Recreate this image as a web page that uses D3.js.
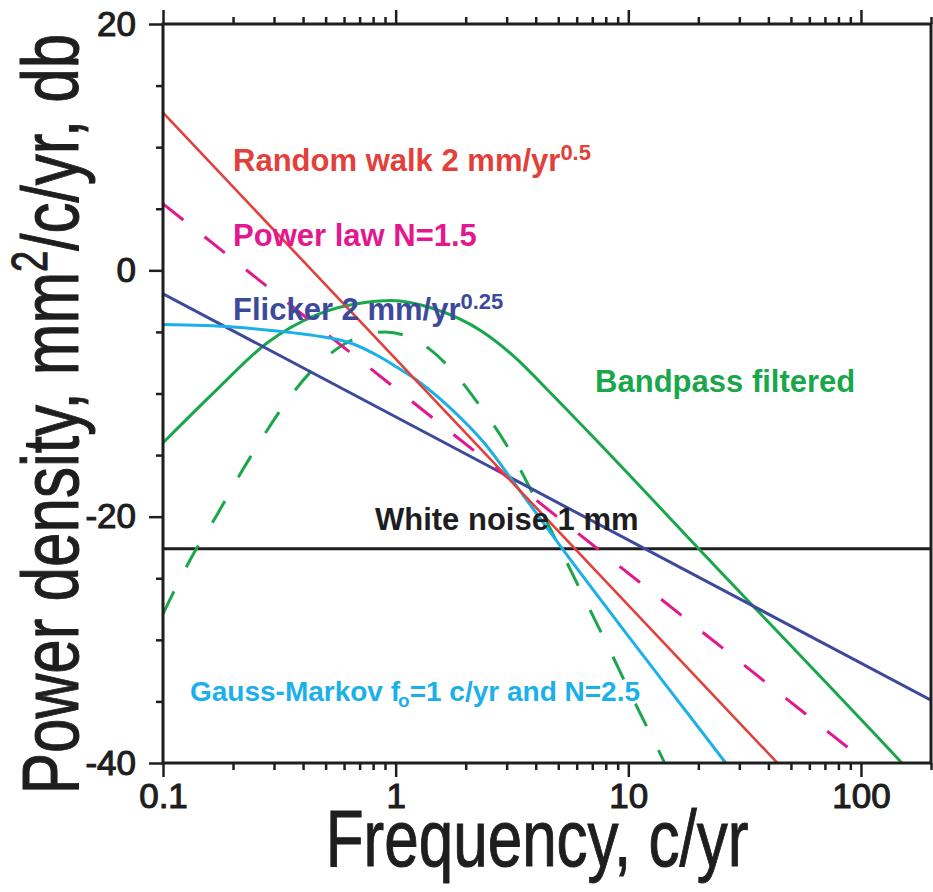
<!DOCTYPE html>
<html>
<head>
<meta charset="utf-8">
<script src="https://cdn.jsdelivr.net/npm/d3@7"></script>
<style>
  body { margin: 0; background: #fff; }
  text { font-family: "Liberation Sans", Arial, Helvetica, sans-serif; }
</style>
</head>
<body>
<svg id="chart" width="933" height="892"></svg>
<script>
// Axis ticks
var freqMajor = [0.1, 1, 10, 100];
var freqMinor = [0.2, 0.3, 0.4, 0.5, 0.6, 0.7, 0.8, 0.9,
                 2, 3, 4, 5, 6, 7, 8, 9,
                 20, 30, 40, 50, 60, 70, 80, 90, 200];
var dbMajor = [-40, -20, 0, 20];
var dbMinor = [-35, -30, -25, -15, -10, -5, 5, 10, 15];

// Spectra: [frequency c/yr, power dB]
var randomWalk = [[0.1, 12.8], [200, -53.2]];
var powerLaw = [[0.1, 5.4], [200, -44.1]];
var flicker = [[0.1, -1.9], [200, -34.9]];
var whiteNoise = [[0.1, -22.6], [200, -22.6]];
var gaussMarkov = [[0.1, -4.4], [0.2, -4.6], [0.3, -4.9], [0.45, -5.3], [0.64, -5.9],
                   [0.85, -7.0], [1.0, -7.8], [1.25, -9.0], [1.7, -11.1], [2.4, -14.0],
                   [3.3, -17.5], [5.2, -22.6], [10, -29.7], [20, -37.1], [28, -40.7]];
var bandpass = [[0.1, -14.0], [0.17, -9.7], [0.28, -5.9], [0.46, -3.6], [0.75, -2.6],
                [0.95, -2.45], [1.45, -3.1], [2.37, -5.0], [3.32, -7.2], [4.6, -9.9],
                [7.55, -14.1], [20.3, -22.7], [150, -40.0], [170, -41.1]];
var bandpassDashed = [[0.1, -27.9], [0.13, -23.6], [0.17, -19.9], [0.22, -16.2], [0.28, -13.0],
                      [0.36, -10.0], [0.46, -7.7], [0.6, -6.0], [0.75, -5.2], [0.9, -5.0],
                      [1.1, -5.3], [1.4, -6.4], [1.8, -8.4], [2.3, -11.0], [3.0, -14.2],
                      [4.0, -18.6], [5.0, -22.3], [6.5, -26.7], [8.5, -31.2], [11, -35.6],
                      [14, -39.6], [15, -40.8]];

var red = "#e2403a", magenta = "#e3188f", blue = "#3d4a9c",
    cyan = "#1cb0ea", green = "#1aa64b", black = "#1e1e1e";

var svg = d3.select("#chart");
var plotLeft = 163, plotRight = 931, plotTop = 24, plotBottom = 763;

var x = d3.scaleLog().domain([0.1, 200]).range([plotLeft, plotRight]);
var y = d3.scaleLinear().domain([-40, 20]).range([plotBottom, plotTop]);

svg.append("clipPath").attr("id", "plot")
    .append("rect").attr("x", plotLeft).attr("y", plotTop)
    .attr("width", plotRight - plotLeft).attr("height", plotBottom - plotTop);

var line = d3.line()
    .x(function (d) { return x(d[0]); })
    .y(function (d) { return y(d[1]); })
    .curve(d3.curveMonotoneX);

var g = svg.append("g").attr("clip-path", "url(#plot)");

function drawLine(data, color, dash, width) {
    g.append("path").datum(data)
        .attr("d", line)
        .attr("fill", "none")
        .attr("stroke", color)
        .attr("stroke-width", width || 3)
        .attr("stroke-dasharray", dash || null);
}

drawLine(whiteNoise, black, null, 3);
drawLine(bandpassDashed, green, "25,27");
drawLine(bandpass, green);
drawLine(flicker, blue);
drawLine(powerLaw, magenta, "26,27");
drawLine(gaussMarkov, cyan);
drawLine(randomWalk, red, null, 2.6);

// Axes: ticks only, frame drawn separately
function styleAxis(sel) {
    sel.select(".domain").remove();
    sel.selectAll(".tick line").attr("stroke", black).attr("stroke-width", 2.5);
    sel.selectAll(".tick text").attr("fill", black)
        .attr("stroke", black).attr("stroke-width", 1.1)
        .style("font-size", "35px").style("font-family", "'Liberation Sans', Arial, sans-serif");
}

svg.append("g").attr("transform", "translate(0," + plotBottom + ")")
    .call(d3.axisBottom(x).tickValues(freqMajor).tickSize(14).tickPadding(6)
        .tickFormat(function (d) { return d < 1 ? "0.1" : String(d); }))
    .call(styleAxis);
svg.append("g").attr("transform", "translate(0," + plotBottom + ")")
    .call(d3.axisBottom(x).tickValues(freqMinor).tickSize(7).tickFormat(""))
    .call(styleAxis);
svg.append("g").attr("transform", "translate(0," + plotTop + ")")
    .call(d3.axisTop(x).tickValues(freqMajor).tickSize(14).tickFormat(""))
    .call(styleAxis);
svg.append("g").attr("transform", "translate(0," + plotTop + ")")
    .call(d3.axisTop(x).tickValues(freqMinor).tickSize(7).tickFormat(""))
    .call(styleAxis);
svg.append("g").attr("transform", "translate(" + plotLeft + ",0)")
    .call(d3.axisLeft(y).tickValues(dbMajor).tickSize(14).tickPadding(13)
        .tickFormat(function (d) { return String(d); }))
    .call(styleAxis);
svg.append("g").attr("transform", "translate(" + plotLeft + ",0)")
    .call(d3.axisLeft(y).tickValues(dbMinor).tickSize(7).tickFormat(""))
    .call(styleAxis);

svg.append("rect")
    .attr("x", plotLeft).attr("y", plotTop)
    .attr("width", plotRight - plotLeft).attr("height", plotBottom - plotTop)
    .attr("fill", "none").attr("stroke", black).attr("stroke-width", 3);

// Axis titles (the original lettering is taller than Liberation Sans)
svg.append("text")
    .attr("transform", "translate(" + ((plotLeft + plotRight) / 2 - 10) + ",866) scale(1,1.3)")
    .attr("text-anchor", "middle")
    .style("font-size", "62px").attr("fill", black)
    .attr("stroke", black).attr("stroke-width", 0.8)
    .text("Frequency, c/yr");

var yTitle = svg.append("text")
    .attr("transform", "translate(78,414) rotate(-90) scale(1,1.3)")
    .attr("text-anchor", "middle")
    .style("font-size", "62px").attr("fill", black)
    .attr("stroke", black).attr("stroke-width", 0.8);
yTitle.append("tspan").text("Power density, mm");
yTitle.append("tspan").attr("dy", -24).style("font-size", "38px").text("2");
yTitle.append("tspan").attr("dy", 24).text("/c/yr, db");

// Series labels
function label(f, db, color, size) {
    return svg.append("text")
        .attr("x", x(f)).attr("y", y(db))
        .attr("fill", color)
        .style("font-size", (size || 31) + "px").style("font-weight", "bold");
}

var rw = label(0.2, 8.05, red);
rw.append("tspan").text("Random walk 2 mm/yr");
rw.append("tspan").attr("dy", -11).style("font-size", "22px").text("0.5");

label(0.2, 1.95, magenta).text("Power law N=1.5");

var fl = label(0.2, -4.05, blue);
fl.append("tspan").text("Flicker 2 mm/yr");
fl.append("tspan").attr("dy", -11).style("font-size", "22px").text("0.25");

label(7.2, -9.9, green).text("Bandpass filtered");
label(0.815, -21.1, black).text("White noise 1 mm");

var gm = label(0.1306, -35.0, cyan, 28);
gm.append("tspan").text("Gauss-Markov f");
gm.append("tspan").attr("dy", 6).attr("dx", -2).style("font-size", "19px").text("o");
gm.append("tspan").attr("dy", -6).text("=1 c/yr and N=2.5");
</script>
</body>
</html>
